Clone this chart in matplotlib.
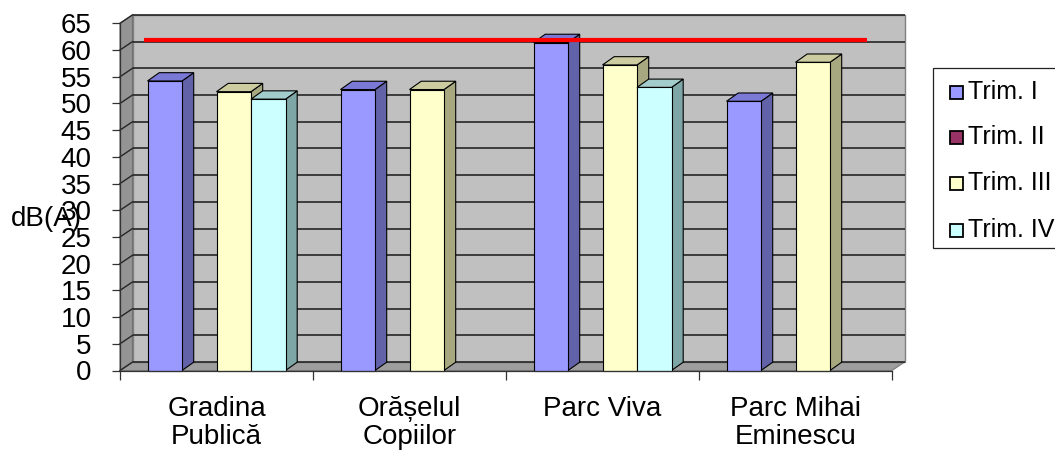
import numpy as np
import matplotlib
matplotlib.use("Agg")
import matplotlib.pyplot as plt
from matplotlib.patches import Polygon, Rectangle
from matplotlib import transforms

plt.rcParams['font.family'] = ['Liberation Sans', 'DejaVu Sans']

# ---- data -------------------------------------------------------------
categories = ["Gradina\nPublică", "Orășelul\nCopiilor", "Parc Viva", "Parc Mihai\nEminescu"]
series = ["Trim. I", "Trim. II", "Trim. III", "Trim. IV"]
trim1 = [54.2, 52.6, 61.4, 50.4]
trim2 = [np.nan, np.nan, np.nan, np.nan]
trim3 = [52.2, 52.6, 57.2, 57.7]
trim4 = [50.8, np.nan, 53.0, np.nan]
values = [trim1, trim2, trim3, trim4]
y_ticks = list(range(0, 70, 5))
y_label = "dB(A)"
limit_value = 60

# ---- styling ----------------------------------------------------------
front_colors = ["#9999FF", "#993366", "#FFFFCC", "#CCFFFF"]
top_colors = ["#7A7AD6", "#7A2952", "#CCCCA0", "#A3CCCC"]
side_colors = ["#6262A8", "#5C1F3D", "#A8A880", "#7FA6A6"]

W, H = 1055, 454
fig = plt.figure(figsize=(W / 100, H / 100), dpi=100)
fig.patch.set_facecolor("white")

# front plane of the 3-D box, in pixels
x_left, x_right = 120, 892
y_zero, y_top = 370.5, 23.3
ax = fig.add_axes([x_left / W, (H - y_zero) / H,
                   (x_right - x_left) / W, (y_zero - y_top) / H])
ncat = len(categories)
ymax = 65
ax.set_xlim(0, ncat)
ax.set_ylim(0, ymax)
ax.patch.set_visible(False)

px_per_x = (x_right - x_left) / ncat
px_per_y = (y_zero - y_top) / ymax
# depth offset of the box (back plane relative to front plane)
DX = 12.5 / px_per_x
DY = 8.4 / px_per_y
# bar depth
BDX = 11.7 / px_per_x
BDY = 8.3 / px_per_y

grid_c = "#262626"

# floor
ax.add_patch(Polygon([(0, 0), (ncat, 0), (ncat + DX, DY), (DX, DY)], closed=True,
                     facecolor="#9E9E9E", edgecolor="#7A7A7A", lw=0.8,
                     zorder=1, clip_on=False))
# left wall
ax.add_patch(Polygon([(0, 0), (DX, DY), (DX, ymax + DY), (0, ymax)], closed=True,
                     facecolor="#949494", edgecolor="#6E6E6E", lw=0.8,
                     zorder=1, clip_on=False))
# back wall
ax.add_patch(Rectangle((DX, DY), ncat, ymax, facecolor="#C0C0C0",
                       edgecolor="#808080", lw=1.0, zorder=1, clip_on=False))
# gridlines on back and left walls
for v in y_ticks:
    ax.plot([DX, ncat + DX], [v + DY, v + DY], color=grid_c, lw=1.2,
            zorder=2, clip_on=False, solid_capstyle="butt")
    ax.plot([0, DX], [v, v + DY], color=grid_c, lw=1.0, zorder=2, clip_on=False)

# bars
nser = len(series)
bw = 34.5 / px_per_x
z = 3
for i in range(ncat):
    start = i + (1 - nser * bw) / 2
    for j in range(nser):
        v = values[j][i]
        if np.isnan(v):
            continue
        x0 = start + j * bw
        ek = dict(edgecolor="black", lw=0.8, clip_on=False, joinstyle="miter")
        ax.add_patch(Polygon([(x0 + bw, 0), (x0 + bw + BDX, BDY),
                              (x0 + bw + BDX, v + BDY), (x0 + bw, v)],
                             closed=True, facecolor=side_colors[j], zorder=z, **ek))
        ax.add_patch(Polygon([(x0, v), (x0 + bw, v), (x0 + bw + BDX, v + BDY),
                              (x0 + BDX, v + BDY)],
                             closed=True, facecolor=top_colors[j], zorder=z, **ek))
        ax.add_patch(Rectangle((x0, 0), bw, v, facecolor=front_colors[j],
                               zorder=z + 0.5, **ek))
        z += 1

# limit line on the back wall
lim_tr = transforms.offset_copy(ax.transData, fig=fig, x=0, y=2, units="dots")
ax.plot([0.06 + DX, 3.805 + DX], [limit_value + DY, limit_value + DY],
        color="#FF0000", lw=3.0, zorder=50, transform=lim_tr,
        solid_capstyle="butt", clip_on=False)

# axes: front edges, ticks and labels
for s in ("top", "right"):
    ax.spines[s].set_visible(False)
for s in ("left", "bottom"):
    ax.spines[s].set_color("#333333")
    ax.spines[s].set_linewidth(0.9)
    ax.spines[s].set_zorder(60)

ax.set_yticks(y_ticks)
ax.set_yticklabels([str(t) for t in y_ticks])
ax.tick_params(axis="y", direction="out", length=5.5, width=0.9, color="#333333",
               labelsize=20, pad=15)

ax.set_xticks(np.arange(0, ncat + 1))
ax.set_xticklabels([])
ax.tick_params(axis="x", which="major", direction="out", length=6.5, width=0.9,
               color="#333333")
ax.set_xticks(np.arange(ncat) + 0.5, minor=True)
ax.set_xticklabels(categories, minor=True, fontsize=20, linespacing=1.1)
ax.tick_params(axis="x", which="minor", length=0, pad=18)

fig.text(46 / W, 1 - 219 / H, y_label, ha="center", va="center", fontsize=20)

# legend
lx0, ly0, ly1 = 933, 68, 248
fig.patches.append(Rectangle((lx0 / W, 1 - ly1 / H), (1065 - lx0) / W, (ly1 - ly0) / H,
                             transform=fig.transFigure, facecolor="white",
                             edgecolor="#222222", lw=0.9))
entry_y = [92, 137, 183, 230]
for name, col, ey in zip(series, front_colors, entry_y):
    sq = 13
    fig.patches.append(Rectangle((950 / W, 1 - (ey + sq / 2) / H), sq / W, sq / H,
                                 transform=fig.transFigure, facecolor=col,
                                 edgecolor="black", lw=1.3))
    fig.text(968 / W, 1 - ey / H, name, ha="left", va="center", fontsize=18)

fig.savefig("out.png", dpi=100)
